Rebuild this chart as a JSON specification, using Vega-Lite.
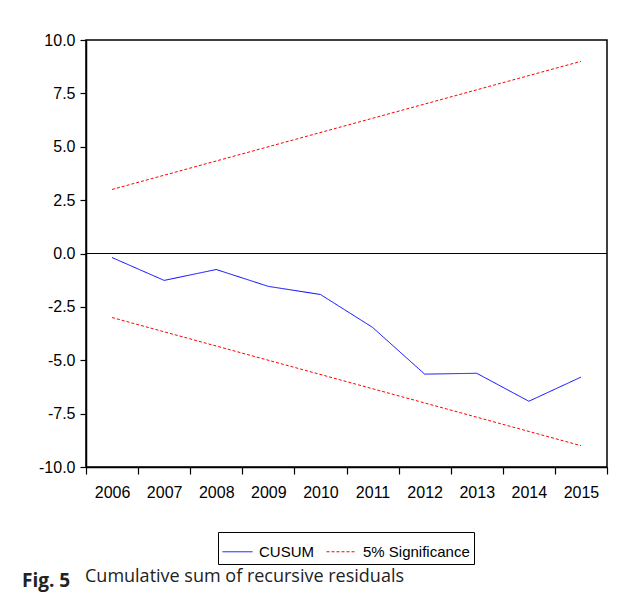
{
  "$schema": "https://vega.github.io/schema/vega-lite/v6.json",
  "width": 521,
  "height": 427,
  "autosize": "none",
  "padding": {"left": 86, "top": 40, "right": 17, "bottom": 138},
  "background": "white",
  "title": {
    "text": "Fig. 5",
    "subtitle": "\u200b\u2003\u2003\u2003\u2002Cumulative sum of recursive residuals",
    "orient": "bottom",
    "anchor": "start",
    "frame": "group",
    "dx": -64,
    "offset": 7,
    "font": "Open Sans",
    "fontSize": 19,
    "fontWeight": "bold",
    "color": "#222",
    "subtitleFont": "Open Sans",
    "subtitleFontSize": 18,
    "subtitleColor": "#222",
    "subtitlePadding": -23
  },
  "datasets": {
    "lines": [
      {"year": "2006", "value": -0.19, "series": "CUSUM", "part": "cusum"},
      {"year": "2007", "value": -1.26, "series": "CUSUM", "part": "cusum"},
      {"year": "2008", "value": -0.75, "series": "CUSUM", "part": "cusum"},
      {"year": "2009", "value": -1.54, "series": "CUSUM", "part": "cusum"},
      {"year": "2010", "value": -1.92, "series": "CUSUM", "part": "cusum"},
      {"year": "2011", "value": -3.46, "series": "CUSUM", "part": "cusum"},
      {"year": "2012", "value": -5.65, "series": "CUSUM", "part": "cusum"},
      {"year": "2013", "value": -5.61, "series": "CUSUM", "part": "cusum"},
      {"year": "2014", "value": -6.92, "series": "CUSUM", "part": "cusum"},
      {"year": "2015", "value": -5.79, "series": "CUSUM", "part": "cusum"},
      {"year": "2006", "value": 3.0, "series": "5% Significance", "part": "upper"},
      {"year": "2015", "value": 9.0, "series": "5% Significance", "part": "upper"},
      {"year": "2006", "value": -3.0, "series": "5% Significance", "part": "lower"},
      {"year": "2015", "value": -9.0, "series": "5% Significance", "part": "lower"}
    ],
    "zero": [{"level": 0}]
  },
  "layer": [
    {
      "data": {"name": "zero"},
      "mark": {"type": "rule", "color": "black", "strokeWidth": 1},
      "encoding": {
        "y": {"field": "level", "type": "quantitative", "scale": {"domain": [-10, 10], "nice": false}}
      }
    },
    {
      "data": {"name": "lines"},
      "mark": {"type": "line", "strokeWidth": 1},
      "encoding": {
        "x": {
          "field": "year", "type": "ordinal",
          "scale": {"paddingInner": 0, "paddingOuter": 0},
          "axis": {
            "title": null, "labelAngle": 0, "tickBand": "extent",
            "tickSize": 7, "labelPadding": 10, "labelFontSize": 16,
            "labelFont": "Arial", "labelColor": "black",
            "tickColor": "black", "domainColor": "black", "grid": false
          }
        },
        "y": {
          "field": "value", "type": "quantitative",
          "scale": {"domain": [-10, 10], "nice": false},
          "axis": {
            "title": null, "values": [-10, -7.5, -5, -2.5, 0, 2.5, 5, 7.5, 10],
            "labelExpr": "(datum.value < 0 ? '-' : '') + format(abs(datum.value), '.1f')",
            "tickSize": 6, "labelPadding": 5,
            "labelFontSize": 16, "labelFont": "Arial", "labelColor": "black",
            "tickColor": "black", "domainColor": "black", "grid": false
          }
        },
        "color": {
          "field": "series", "type": "nominal",
          "scale": {"domain": ["CUSUM", "5% Significance"], "range": ["#0000FF", "#FF0000"]},
          "legend": {
            "title": null, "orient": "none", "legendX": 132, "legendY": 492,
            "direction": "horizontal", "strokeColor": "black", "padding": 4,
            "symbolType": "stroke", "symbolSize": 900, "symbolStrokeWidth": 1,
            "labelFont": "Arial", "labelFontSize": 15, "labelColor": "black",
            "columnPadding": 10, "labelOffset": 6, "cornerRadius": 0
          }
        },
        "strokeDash": {
          "field": "series", "type": "nominal",
          "scale": {"domain": ["CUSUM", "5% Significance"], "range": [[1, 0], [3, 2]]},
          "legend": {
            "title": null, "orient": "none", "legendX": 132, "legendY": 492,
            "direction": "horizontal", "strokeColor": "black", "padding": 4,
            "symbolType": "stroke", "symbolSize": 900, "symbolStrokeWidth": 1,
            "labelFont": "Arial", "labelFontSize": 15, "labelColor": "black",
            "columnPadding": 10, "labelOffset": 6, "cornerRadius": 0
          }
        },
        "detail": {"field": "part", "type": "nominal"}
      }
    }
  ],
  "config": {
    "view": {"stroke": "black", "strokeWidth": 1.5},
    "axis": {"domainWidth": 1.5, "tickWidth": 1.2}
  }
}
